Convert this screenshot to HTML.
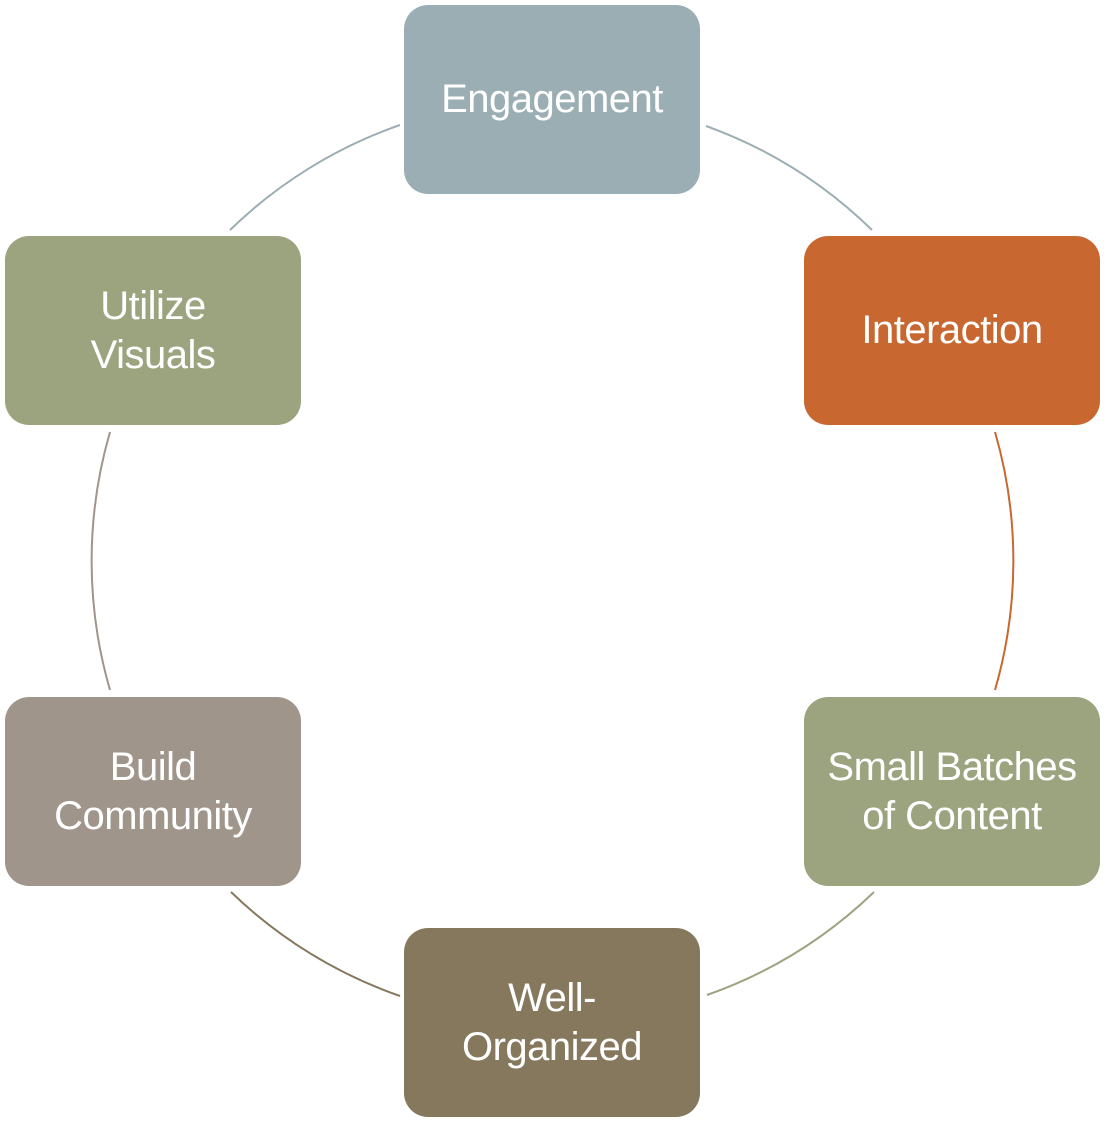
<!DOCTYPE html>
<html><head><meta charset="utf-8"><style>
html,body{margin:0;padding:0;background:#fff;}
body{width:1118px;height:1123px;position:relative;overflow:hidden;font-family:"Liberation Sans",sans-serif;}
.b{position:absolute;width:296px;height:189px;border-radius:24px;color:#fff;display:flex;align-items:center;justify-content:center;text-align:center;font-size:40px;line-height:49px;letter-spacing:-0.5px;}
svg{position:absolute;left:0;top:0;}
</style></head><body>
<svg width="1118" height="1123" fill="none" stroke-width="2">
<path d="M706 126 A462 462 0 0 1 872 230" stroke="#9BAEB3"/>
<path d="M995 432 A462 462 0 0 1 995 690" stroke="#C86730"/>
<path d="M874 892 A462 462 0 0 1 707 995" stroke="#9CA37F"/>
<path d="M400 996 A462 462 0 0 1 231 892" stroke="#85785D"/>
<path d="M110 690 A462 462 0 0 1 110 432" stroke="#A0958A"/>
<path d="M230 230 A462 462 0 0 1 400 125" stroke="#9BAEB3"/>
</svg>
<div class="b" style="left:404px;top:5px;background:#9BAEB3;">Engagement</div>
<div class="b" style="left:804px;top:236px;background:#C86730;">Interaction</div>
<div class="b" style="left:804px;top:697px;background:#9CA37F;">Small Batches<br>of Content</div>
<div class="b" style="left:404px;top:928px;background:#85785D;">Well-<br>Organized</div>
<div class="b" style="left:5px;top:697px;background:#A0958A;">Build<br>Community</div>
<div class="b" style="left:5px;top:236px;background:#9CA37F;">Utilize<br>Visuals</div>
</body></html>
